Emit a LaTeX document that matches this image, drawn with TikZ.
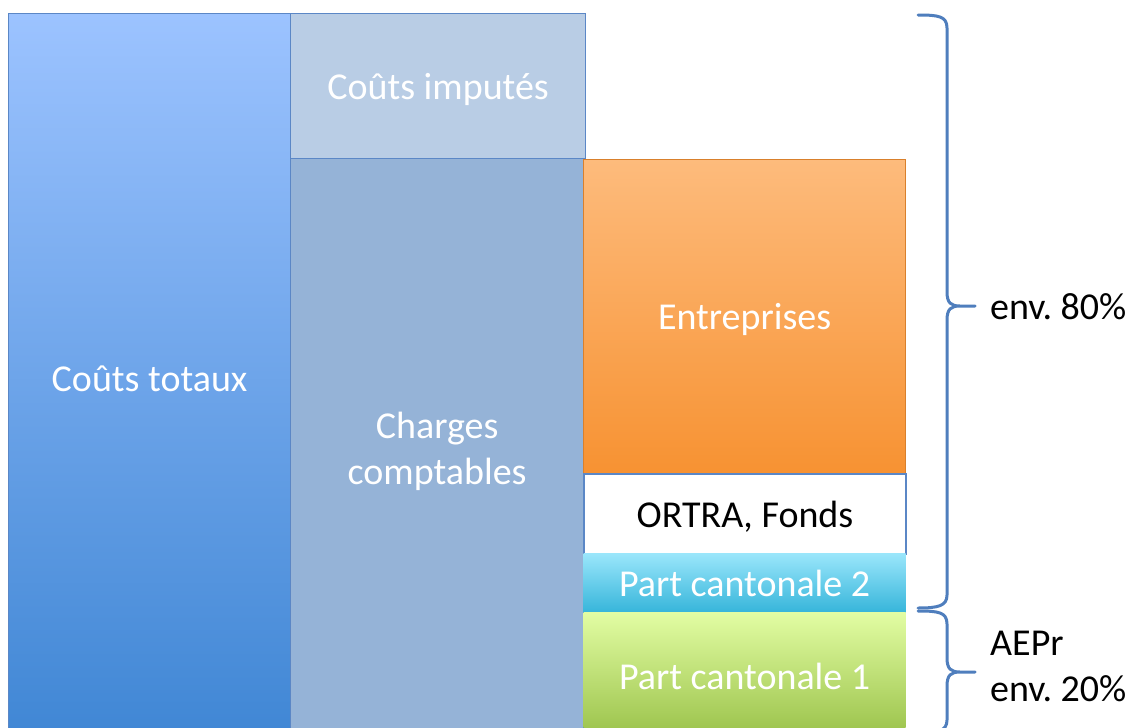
\documentclass[tikz,border=0pt]{standalone}
\usepackage{fontspec}
\setmainfont{Carlito}
\frenchspacing
\definecolor{bordc}{HTML}{5B87C6}
\definecolor{bracec}{HTML}{4F7EBD}
\definecolor{ctTop}{HTML}{9CC3FF}
\definecolor{ctBot}{HTML}{3F86D4}
\definecolor{ciFill}{HTML}{B9CDE5}
\definecolor{ccFill}{HTML}{95B3D7}
\definecolor{enTop}{HTML}{FDBB7C}
\definecolor{enBot}{HTML}{F79232}
\definecolor{p2Top}{HTML}{9AE6FB}
\definecolor{p2Bot}{HTML}{36B5DA}
\definecolor{p1Top}{HTML}{E2FDA3}
\definecolor{p1Bot}{HTML}{98C047}
\begin{document}
\begin{tikzpicture}[x=1pt,y=-1pt,
  box/.style={draw=bordc, line width=1.2pt, anchor=north west, inner sep=0pt,
    text=white, align=center, text depth=0pt, font=\fontsize{38}{46}\selectfont},
  bracepath/.style={draw=bracec, line width=3pt, line cap=round, line join=round},
  lbl/.style={anchor=west, align=left, inner sep=0pt, font=\fontsize{38}{46}\selectfont}]
\useasboundingbox (0,0) rectangle (1138,728);
\clip (0,0) rectangle (1138,728);
\fill[white] (0,0) rectangle (1138,728);
\node[box, minimum width=282, minimum height=730, top color=ctTop, bottom color=ctBot] (ct) at (8,13) {Coûts totaux};
\node[box, minimum width=295, minimum height=145, fill=ciFill] (ci) at (290,13) {Coûts imputés};
\node[box, minimum width=293, minimum height=580, fill=ccFill] (cc) at (290,158) {Charges\\comptables};
\node[box, draw=enBot!80!black!60!enBot, minimum width=322, minimum height=314, top color=enTop, bottom color=enBot] (en) at (583,159) {Entreprises};
\node[box, line width=2pt, fill=white, text=black, minimum width=322, minimum height=80] (or) at (583,473) {ORTRA, Fonds};
\node[box, draw=none, minimum width=322, minimum height=59, top color=p2Top, bottom color=p2Bot] (p2) at (583,553) {Part cantonale 2};
\node[box, draw=none, minimum width=322, minimum height=128, top color=p1Top, bottom color=p1Bot] (p1) at (583,612) {Part cantonale 1};
% braces
\coordinate (b1a) at (918,15);
\coordinate (b1t) at (975,306);
\coordinate (b1b) at (918,608);
\draw[bracepath] (b1a) .. controls (938,15) and (947,16) .. (947,28) -- (947,292)
  .. controls (947,303) and (951,306) .. (960,306) -- (b1t) -- (960,306)
  .. controls (951,306) and (947,309) .. (947,320) -- (947,595)
  .. controls (947,606) and (938,608) .. (b1b);
\coordinate (b2a) at (918,611);
\coordinate (b2t) at (975,672);
\coordinate (b2b) at (918,733);
\draw[bracepath] (b2a) .. controls (938,611) and (947,612) .. (947,624) -- (947,658)
  .. controls (947,669) and (951,672) .. (960,672) -- (b2t) -- (960,672)
  .. controls (951,672) and (947,675) .. (947,686) -- (947,720)
  .. controls (947,731) and (938,733) .. (b2b);
\node[lbl, anchor=base west] (l80) at (990,319) {env. 80\%};
\node[lbl] (l20) at (990,666) {AEPr\\env. 20\%};
\end{tikzpicture}
\end{document}
